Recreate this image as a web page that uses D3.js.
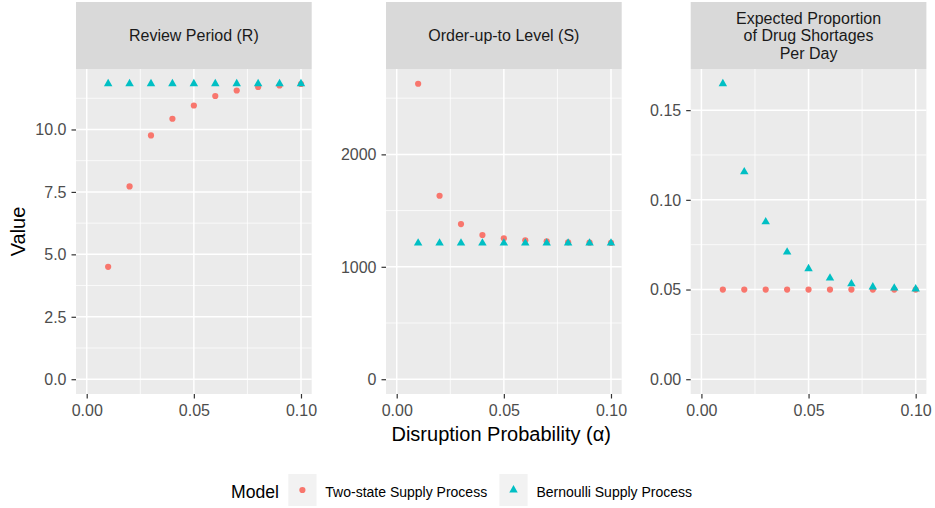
<!DOCTYPE html>
<html>
<head>
<meta charset="utf-8">
<script src="https://cdn.jsdelivr.net/npm/d3@7"></script>
<style>
  html, body { margin: 0; padding: 0; background: #ffffff; }
  svg { display: block; font-family: "Liberation Sans", Arial, sans-serif; }
</style>
</head>
<body>
<svg id="chart" width="935" height="508"></svg>
<script>
// Disruption probability values shared by every facet
const alpha = [0.01, 0.02, 0.03, 0.04, 0.05, 0.06, 0.07, 0.08, 0.09, 0.10];

// Review period (R)
const reviewTwoState  = [4.50, 7.72, 9.76, 10.43, 10.96, 11.34, 11.56, 11.70, 11.76, 11.82];
const reviewBernoulli = [11.83, 11.83, 11.83, 11.83, 11.83, 11.83, 11.83, 11.83, 11.83, 11.83];

// Order-up-to level (S)
const orderTwoState  = [2628, 1632, 1380, 1283, 1253, 1236, 1227, 1218, 1215, 1212];
const orderBernoulli = [1211, 1211, 1211, 1211, 1211, 1211, 1211, 1211, 1211, 1211];

// Expected proportion of drug shortages per day
const shortageTwoState  = [0.050, 0.050, 0.050, 0.050, 0.050, 0.050, 0.050, 0.050, 0.050, 0.050];
const shortageBernoulli = [0.1647, 0.1156, 0.0877, 0.0709, 0.0616, 0.0564, 0.0532, 0.0514, 0.0508, 0.0503];

// Facet titles and axis breaks
const facetTitles = [
  ["Review Period (R)"],
  ["Order-up-to Level (S)"],
  ["Expected Proportion", "of Drug Shortages", "Per Day"]
];
const xTicks = [0, 0.05, 0.10];
const xTickLabels = ["0.00", "0.05", "0.10"];
const yTicksR = [0, 2.5, 5, 7.5, 10];
const yTicksS = [0, 1000, 2000];
const yTicksP = [0, 0.05, 0.10, 0.15];
const yFormats = [d3.format(".1f"), d3.format("d"), d3.format(".2f")];

const models = ["Two-state Supply Process", "Bernoulli Supply Process"];
const modelColors = ["#F8766D", "#00BFC4"];

const facets = [
  { title: facetTitles[0], series: [reviewTwoState, reviewBernoulli], ticks: yTicksR, fmt: yFormats[0] },
  { title: facetTitles[1], series: [orderTwoState, orderBernoulli], ticks: yTicksS, fmt: yFormats[1] },
  { title: facetTitles[2], series: [shortageTwoState, shortageBernoulli], ticks: yTicksP, fmt: yFormats[2] }
];

// Layout
const panelLefts = [76, 386, 690.7];
const panelW = 235.7;
const stripTop = 2, panelTop = 69, panelBottom = 394;

const svg = d3.select("#chart");

// Triangle path centred on its centroid (filled triangle glyph)
function trianglePath(r) {
  const h = r * Math.sqrt(3) / 2;
  return `M0,${-r}L${h},${r / 2}L${-h},${r / 2}Z`;
}
const TRI_R = 4.9, DOT_R = 3.1;

function drawPoint(g, shapeIndex, cx, cy) {
  if (shapeIndex === 0) {
    g.append("circle").attr("cx", cx).attr("cy", cy).attr("r", DOT_R)
      .attr("fill", modelColors[0]);
  } else {
    g.append("path").attr("d", trianglePath(TRI_R))
      .attr("transform", `translate(${cx},${cy})`)
      .attr("fill", modelColors[1]);
  }
}

// Extend breaks with midpoints for the minor grid
function minorBreaks(major, domain) {
  const step = major[1] - major[0];
  const out = [];
  for (let i = -1; i < major.length; i++) {
    const v = major[0] + (i + 0.5) * step;
    if (v >= domain[0] && v <= domain[1]) out.push(v);
  }
  return out;
}

const xDomainRaw = [0, d3.max(alpha)];
const xPad = (xDomainRaw[1] - xDomainRaw[0]) * 0.05;
const xDomain = [xDomainRaw[0] - xPad, xDomainRaw[1] + xPad];

facets.forEach((f, i) => {
  const left = panelLefts[i];
  const x = d3.scaleLinear().domain(xDomain).range([left, left + panelW]);
  const allVals = f.series.flat();
  const lo = Math.min(0, d3.min(allVals)), hi = d3.max(allVals);
  const pad = (hi - lo) * 0.05;
  const yDomain = [lo - pad, hi + pad];
  const y = d3.scaleLinear().domain(yDomain).range([panelBottom, panelTop]);

  const g = svg.append("g");

  // Strip
  g.append("rect").attr("x", left).attr("y", stripTop)
    .attr("width", panelW).attr("height", panelTop - stripTop).attr("fill", "#d9d9d9");
  const stripMid = (stripTop + panelTop) / 2;
  const lineH = 17.5;
  f.title.forEach((t, k) => {
    const cy = stripMid + (k - (f.title.length - 1) / 2) * lineH;
    g.append("text").attr("x", left + panelW / 2).attr("y", cy + 5.7)
      .attr("text-anchor", "middle").attr("font-size", 16).attr("fill", "#1a1a1a").text(t);
  });

  // Panel background
  g.append("rect").attr("x", left).attr("y", panelTop)
    .attr("width", panelW).attr("height", panelBottom - panelTop).attr("fill", "#ebebeb");

  // Minor grid
  minorBreaks(f.ticks, yDomain).forEach(v => {
    g.append("line").attr("x1", left).attr("x2", left + panelW)
      .attr("y1", y(v)).attr("y2", y(v)).attr("stroke", "#ffffff").attr("stroke-width", 0.75);
  });
  minorBreaks(xTicks, xDomain).forEach(v => {
    g.append("line").attr("y1", panelTop).attr("y2", panelBottom)
      .attr("x1", x(v)).attr("x2", x(v)).attr("stroke", "#ffffff").attr("stroke-width", 0.75);
  });
  // Major grid
  f.ticks.forEach(v => {
    g.append("line").attr("x1", left).attr("x2", left + panelW)
      .attr("y1", y(v)).attr("y2", y(v)).attr("stroke", "#ffffff").attr("stroke-width", 1.5);
  });
  xTicks.forEach(v => {
    g.append("line").attr("y1", panelTop).attr("y2", panelBottom)
      .attr("x1", x(v)).attr("x2", x(v)).attr("stroke", "#ffffff").attr("stroke-width", 1.5);
  });

  // Points: two-state first, Bernoulli drawn on top
  f.series.forEach((vals, s) => {
    vals.forEach((v, j) => drawPoint(g, s, x(alpha[j]), y(v)));
  });

  // Axes
  const yAxis = d3.axisLeft(y).tickValues(f.ticks).tickFormat(f.fmt)
    .tickSize(4.5).tickPadding(5);
  const ya = g.append("g").attr("transform", `translate(${left},0)`).call(yAxis);
  const xAxis = d3.axisBottom(x).tickValues(xTicks).tickFormat((d, k) => xTickLabels[k])
    .tickSize(4.5).tickPadding(6.6);
  const xa = g.append("g").attr("transform", `translate(0,${panelBottom})`).call(xAxis);
  [ya, xa].forEach(a => {
    a.select(".domain").remove();
    a.selectAll(".tick line").attr("stroke", "#333333").attr("stroke-width", 1.2);
    a.selectAll(".tick text").attr("fill", "#4d4d4d").attr("font-size", 16)
      .attr("font-family", "Liberation Sans, Arial, sans-serif");
  });
  ya.selectAll(".tick text").attr("dy", "0.34em");
});

// Axis titles
svg.append("text").attr("x", (panelLefts[0] + panelLefts[2] + panelW) / 2).attr("y", 441)
  .attr("text-anchor", "middle").attr("font-size", 20).attr("fill", "#000000")
  .text("Disruption Probability (α)");
svg.append("text")
  .attr("transform", `translate(25,${(panelTop + panelBottom) / 2}) rotate(-90)`)
  .attr("text-anchor", "middle").attr("font-size", 20).attr("fill", "#000000")
  .text("Value");

// Legend
const legend = svg.append("g");
legend.append("text").attr("x", 231).attr("y", 498).attr("font-size", 17.6)
  .attr("fill", "#000000").text("Model");
const keyX = [288.3, 499.4];
models.forEach((m, s) => {
  legend.append("rect").attr("x", keyX[s]).attr("y", 474).attr("width", 28.2).attr("height", 32)
    .attr("fill", "#f2f2f2");
  drawPoint(legend, s, keyX[s] + 14.1, 490);
  legend.append("text").attr("x", keyX[s] + 37).attr("y", 497).attr("font-size", 14)
    .attr("fill", "#000000").text(m);
});
</script>
</body>
</html>
